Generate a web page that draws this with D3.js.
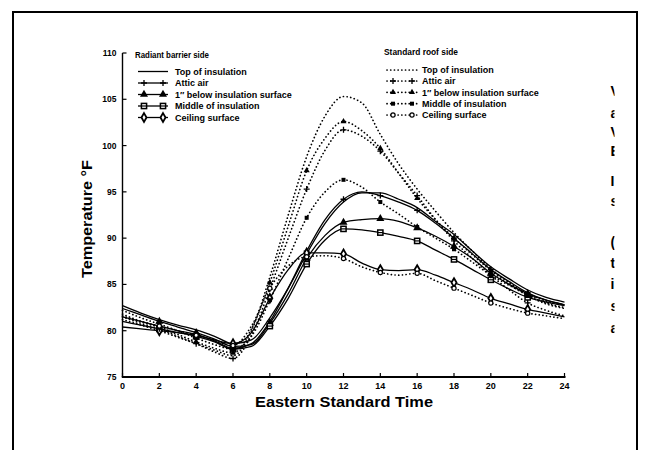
<!DOCTYPE html>
<html><head><meta charset="utf-8">
<script src="https://cdn.jsdelivr.net/npm/d3@7"></script>
<style>
html,body{margin:0;padding:0;background:#fff;}
svg{display:block;font-family:"Liberation Sans",Arial,sans-serif;}
</style></head>
<body>
<svg id="chart" width="649" height="450"></svg>
<script>
// ---- data ----
const hours = d3.range(0, 25);
const markerHours = [2, 4, 6, 8, 10, 12, 14, 16, 18, 20, 22];
const xTicks = [0, 2, 4, 6, 8, 10, 12, 14, 16, 18, 20, 22, 24];
const yTicks = [75, 80, 85, 90, 95, 100, 105, 110];

// Radiant barrier side (solid lines)
const rbTop     = [82.7,81.9,81.2,80.6,80.1,79.4,78.6,79.0,81.4,84.6,88.3,91.6,93.9,94.9,94.9,94.2,93.3,91.8,90.4,88.6,86.9,85.6,84.4,83.6,83.1];
const rbAttic   = [81.5,81.0,80.5,80.0,79.6,78.9,78.1,78.6,81.0,84.6,88.6,92.0,94.2,95.0,94.6,93.9,93.0,91.6,90.0,88.3,86.6,85.3,84.1,83.3,82.8];
const rbBelow   = [82.4,81.7,81.0,80.4,79.8,79.1,78.3,78.5,80.8,84.0,87.8,90.3,91.7,92.0,92.1,91.8,91.1,90.2,89.1,87.8,86.2,85.0,84.0,83.3,82.8];
const rbMiddle  = [81.0,80.6,80.2,79.8,79.4,78.8,78.0,78.3,80.5,83.5,87.2,89.8,91.0,90.9,90.6,90.2,89.7,88.7,87.7,86.6,85.5,84.5,83.6,83.1,82.7];
const rbCeiling = [80.4,80.2,80.0,79.8,79.5,79.0,78.6,79.8,83.5,86.6,88.4,88.4,88.3,87.3,86.6,86.5,86.6,86.0,85.2,84.4,83.5,82.9,82.3,81.9,81.5];

// Standard roof side (dotted lines)
const stTop     = [81.2,80.6,80.0,79.3,78.6,77.9,77.3,80.0,85.8,92.5,98.8,103.2,105.3,104.6,101.2,98.0,95.3,92.9,90.6,88.6,86.7,85.2,84.0,83.2,82.8];
const stAttic   = [81.5,80.8,80.2,79.4,78.6,77.7,77.0,79.5,84.5,90.0,95.3,99.5,101.7,101.0,99.4,97.0,94.6,92.0,89.7,87.8,86.0,84.4,83.0,82.2,81.6];
const stBelow   = [81.8,81.0,80.4,79.6,78.8,78.1,77.6,80.2,85.2,91.3,97.3,100.8,102.6,101.6,99.7,97.0,94.3,92.0,90.0,88.2,86.5,85.0,83.8,82.9,82.4];
const stMiddle  = [82.2,81.4,80.7,80.0,79.2,78.5,78.0,79.4,83.3,87.8,92.2,95.0,96.3,95.5,93.9,92.6,91.2,90.0,88.8,87.4,86.0,84.9,83.9,83.0,82.5];
const stCeiling = [81.6,81.0,80.5,80.0,79.5,78.9,78.4,80.5,84.6,87.0,88.0,88.1,87.8,86.9,86.3,86.0,86.2,85.4,84.6,83.8,83.0,82.4,81.9,81.6,81.3];

const rbLabels = ["Top of insulation","Attic air","1\u2033 below insulation surface","Middle of insulation","Ceiling surface"];
const stLabels = ["Top of insulation","Attic air","1\u2033 below insulation surface","Middle of insulation","Ceiling surface"];
const sideFragments = ["V","a","V","E","I","s","(","t","i","s","a"];
const fragmentY = [91,113,132,151,181,201,242,263,284,306,328];

// ---- chart ----
const svg = d3.select("#chart");
const x = d3.scaleLinear().domain([0, 24]).range([122.5, 564.5]);
const y = d3.scaleLinear().domain([75, 110]).range([377, 53]);

// outer frame (bottom edge runs off the page)
svg.append("rect").attr("x", 13).attr("y", 12).attr("width", 624).attr("height", 460)
  .attr("fill", "none").attr("stroke", "#000").attr("stroke-width", 2);

const series = [
  {v: rbTop,     dash: null, marker: null},
  {v: rbAttic,   dash: null, marker: "plus"},
  {v: rbBelow,   dash: null, marker: "triF"},
  {v: rbMiddle,  dash: null, marker: "sqO"},
  {v: rbCeiling, dash: null, marker: "diaO"},
  {v: stTop,     dash: "0.1,3.6", marker: null},
  {v: stAttic,   dash: "0.1,3.6", marker: "plus"},
  {v: stBelow,   dash: "0.1,3.6", marker: "triS"},
  {v: stMiddle,  dash: "0.1,3.6", marker: "sqS"},
  {v: stCeiling, dash: "0.1,3.6", marker: "cirO"}
];

function drawMarker(g, type, cx, cy) {
  if (!type) return;
  if (type === "plus") {
    g.append("path").attr("d", `M${cx-3},${cy}H${cx+3}M${cx},${cy-3}V${cy+3}`)
      .attr("stroke", "#000").attr("stroke-width", 1.3).attr("fill", "none");
  } else if (type === "triF") {
    g.append("path").attr("transform", `translate(${cx},${cy})`)
      .attr("d", d3.symbol(d3.symbolTriangle, 28)()).attr("fill", "#000");
  } else if (type === "triS") {
    g.append("path").attr("transform", `translate(${cx},${cy})`)
      .attr("d", d3.symbol(d3.symbolTriangle, 16)()).attr("fill", "#000");
  } else if (type === "sqO") {
    g.append("rect").attr("x", cx-2.6).attr("y", cy-2.6).attr("width", 5.2).attr("height", 5.2)
      .attr("fill", "#fff").attr("stroke", "#000").attr("stroke-width", 1.5);
    g.append("path").attr("d", `M${cx-2.6},${cy}H${cx+2.6}`).attr("stroke", "#000").attr("stroke-width", 1.2);
  } else if (type === "sqS") {
    g.append("rect").attr("x", cx-2).attr("y", cy-2).attr("width", 4).attr("height", 4)
      .attr("fill", "#000");
  } else if (type === "diaO") {
    g.append("path").attr("transform", `translate(${cx},${cy})`)
      .attr("d", d3.symbol(d3.symbolDiamond, 22)()).attr("fill", "#fff")
      .attr("stroke", "#000").attr("stroke-width", 1.8);
  } else if (type === "cirO") {
    g.append("circle").attr("cx", cx).attr("cy", cy).attr("r", 2.1)
      .attr("fill", "#fff").attr("stroke", "#000").attr("stroke-width", 1.2);
  }
}

const line = d3.line().x((d, i) => x(hours[i])).y(d => y(d)).curve(d3.curveMonotoneX);
const plot = svg.append("g");
series.forEach(s => {
  plot.append("path").attr("d", line(s.v)).attr("fill", "none").attr("stroke", "#000")
    .attr("stroke-width", s.dash ? 1.7 : 1.3)
    .attr("stroke-linecap", s.dash ? "round" : "butt")
    .attr("stroke-dasharray", s.dash);
});
series.forEach(s => {
  markerHours.forEach(h => {
    const i = hours.indexOf(h);
    drawMarker(plot, s.marker, x(h), y(s.v[i]));
  });
});

// axes
const ax = svg.append("g");
ax.append("line").attr("x1", x(0)).attr("x2", x(0)).attr("y1", y(75)).attr("y2", y(110))
  .attr("stroke", "#000").attr("stroke-width", 1.4);
ax.append("line").attr("x1", x(0) - 0.7).attr("x2", x(24) + 1).attr("y1", y(75)).attr("y2", y(75))
  .attr("stroke", "#000").attr("stroke-width", 2);
yTicks.forEach(t => {
  ax.append("line").attr("x1", x(0)).attr("x2", x(0) + 4).attr("y1", y(t)).attr("y2", y(t))
    .attr("stroke", "#000").attr("stroke-width", 1.2);
  ax.append("text").attr("x", x(0) - 6).attr("y", y(t) + 3).attr("text-anchor", "end")
    .attr("font-size", 8.5).attr("font-weight", "bold").text(t);
});
xTicks.forEach(t => {
  ax.append("line").attr("x1", x(t)).attr("x2", x(t)).attr("y1", y(75)).attr("y2", y(75) - 4)
    .attr("stroke", "#000").attr("stroke-width", 1.2);
  ax.append("text").attr("x", x(t)).attr("y", 389).attr("text-anchor", "middle")
    .attr("font-size", 9).attr("font-weight", "bold").text(t);
});
ax.append("text").attr("x", 344).attr("y", 407).attr("text-anchor", "middle")
  .attr("font-size", 15).attr("font-weight", "bold")
  .attr("textLength", 178).attr("lengthAdjust", "spacingAndGlyphs").text("Eastern Standard Time");
ax.append("text").attr("transform", "translate(92,219) rotate(-90)").attr("text-anchor", "middle")
  .attr("font-size", 15).attr("font-weight", "bold")
  .attr("textLength", 118).attr("lengthAdjust", "spacingAndGlyphs").text("Temperature \u00B0F");

// legends
function legend(x0, titleY, rowY, title, labels, items, textX, titleLen) {
  const g = svg.append("g");
  g.append("text").attr("x", x0).attr("y", titleY).attr("font-size", 8.5).attr("font-weight", "bold")
    .attr("textLength", titleLen).attr("lengthAdjust", "spacingAndGlyphs").text(title);
  labels.forEach((lab, i) => {
    const yy = rowY[i];
    const s = items[i];
    g.append("line").attr("x1", x0 + 3).attr("x2", x0 + 33).attr("y1", yy).attr("y2", yy)
      .attr("stroke", "#000").attr("stroke-width", s.dash ? 1.7 : 1.3)
      .attr("stroke-linecap", s.dash ? "round" : "butt").attr("stroke-dasharray", s.dash);
    if (s.marker) {
      drawMarker(g, s.marker, x0 + 9, yy);
      drawMarker(g, s.marker, x0 + 28, yy);
    }
    g.append("text").attr("x", textX).attr("y", yy + 3.2).attr("font-size", 9).attr("font-weight", "bold")
      .text(lab);
  });
}
legend(135, 58, [71.5, 83, 94.5, 106, 117.5], "Radiant barrier side", rbLabels, series.slice(0, 5), 175, 74);
legend(384, 55, [70, 81, 92.3, 103.7, 115], "Standard roof side", stLabels, series.slice(5), 422, 74);

// cut-off text from the neighbouring page column
const defs = svg.append("defs");
defs.append("clipPath").attr("id", "edge").append("rect").attr("x", 600).attr("y", 60).attr("width", 14.5).attr("height", 300);
const frag = svg.append("g").attr("clip-path", "url(#edge)");
sideFragments.forEach((c, i) => {
  frag.append("text").attr("x", 610.5).attr("y", fragmentY[i] + 5).attr("font-size", 14)
    .attr("font-weight", "bold").text(c);
});
</script>
</body></html>
